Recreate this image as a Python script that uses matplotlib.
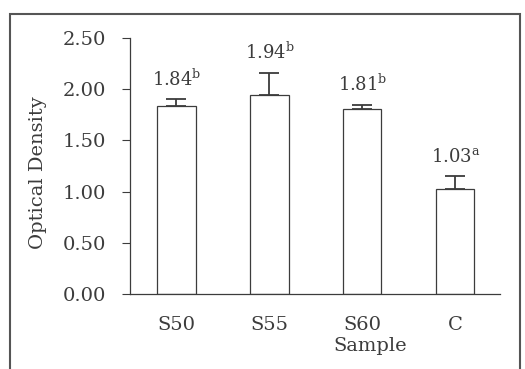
import matplotlib.pyplot as plt
from matplotlib.patches import Rectangle

samples = ['S50', 'S55', 'S60', 'C']
density = [1.84, 1.94, 1.81, 1.03]
errors = [0.06, 0.22, 0.04, 0.12]
letters = ['b', 'b', 'b', 'a']
yticks = [0.0, 0.5, 1.0, 1.5, 2.0, 2.5]

plt.rcParams['font.family'] = ['DejaVu Serif']
plt.rcParams['mathtext.fontset'] = 'dejavuserif'
grey = '#3c3c3c'

fig = plt.figure(figsize=(5.25, 3.69), dpi=100)
ax = fig.add_axes([0.2476, 0.2033, 0.7048, 0.6937])

x = range(len(samples))
ax.bar(x, density, width=0.41, color='white', edgecolor=grey, linewidth=0.9,
       yerr=[[0] * len(errors), errors], capsize=7.5,
       error_kw=dict(ecolor=grey, elinewidth=1.3, capthick=1.3))

for i in x:
    ax.annotate(f'{density[i]:.2f}$^{{\\mathrm{{{letters[i]}}}}}$',
                (i, density[i] + errors[i]), xytext=(0, 10),
                textcoords='offset points', ha='center', va='baseline',
                fontsize=13, color=grey)

ax.set_xlim(-0.5, 3.48)
ax.set_ylim(0, 2.5)
ax.set_yticks(yticks)
ax.set_yticklabels([f'{v:.2f}' for v in yticks])
ax.set_xticks(list(x))
ax.set_xticklabels(samples)
ax.tick_params(axis='y', direction='out', length=6, width=0.8, colors=grey,
               labelsize=14, pad=11)
ax.tick_params(axis='x', length=0, colors=grey, labelsize=14, pad=16)

for s in ['top', 'right']:
    ax.spines[s].set_visible(False)
for s in ['left', 'bottom']:
    ax.spines[s].set_color(grey)
    ax.spines[s].set_linewidth(0.9)

ax.set_ylabel('Optical Density', fontsize=14, color=grey)
ax.yaxis.set_label_coords(-0.224, 0.473)
ax.set_xlabel('Sample', fontsize=14, color=grey)
ax.xaxis.set_label_coords(0.65, -0.168)

fig.patches.append(Rectangle((10 / 525, -0.1), 510 / 525, 1.1 - 14 / 369,
                             transform=fig.transFigure, fill=False,
                             edgecolor='#555555', linewidth=1.5))

fig.savefig('out.png', dpi=100)
